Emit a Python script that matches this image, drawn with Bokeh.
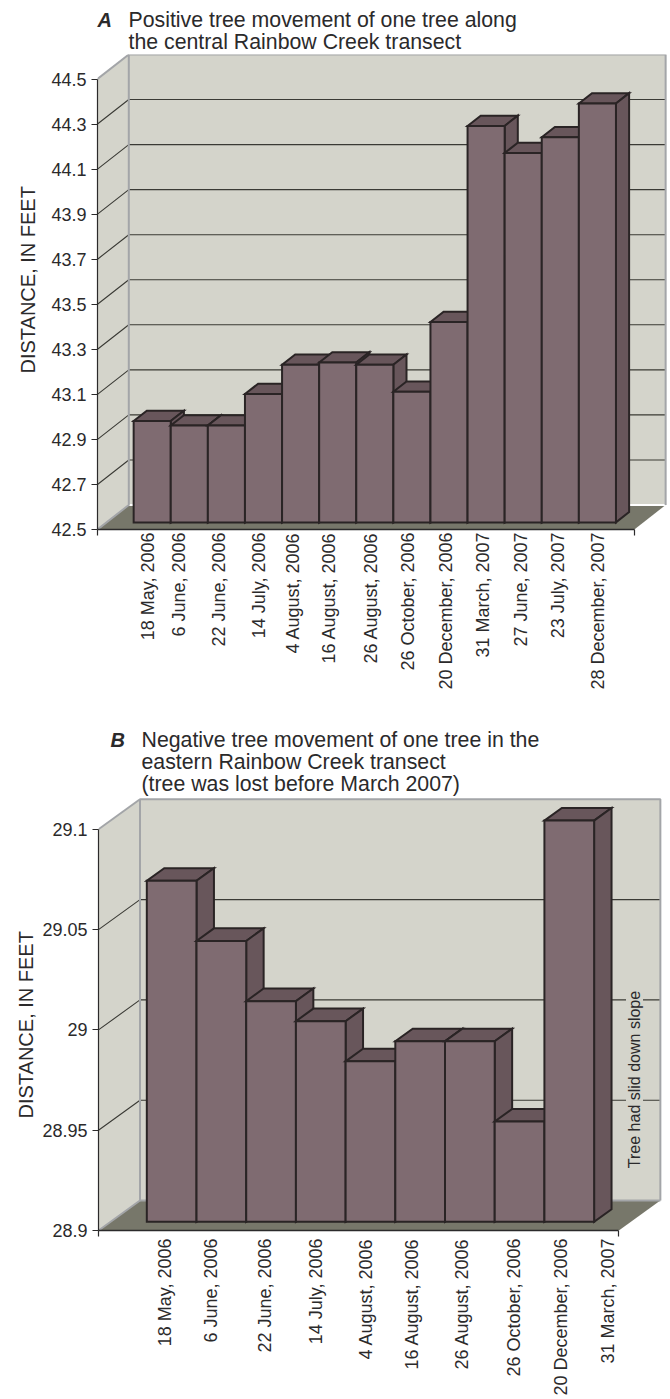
import math

from bokeh.core.properties import value
from bokeh.embed import file_html
from bokeh.layouts import column
from bokeh.models import FixedTicker, Label, LinearAxis, NumeralTickFormatter, Range1d, Title
from bokeh.plotting import figure
from bokeh.resources import INLINE

# Surveyed distances, feet
A_DATES = ["18 May, 2006", "6 June, 2006", "22 June, 2006", "14 July, 2006", "4 August, 2006",
           "16 August, 2006", "26 August, 2006", "26 October, 2006", "20 December, 2006",
           "31 March, 2007", "27 June, 2007", "23 July, 2007", "28 December, 2007"]
A_VALUES = [42.95, 42.93, 42.93, 43.07, 43.20, 43.21, 43.20, 43.08, 43.39, 44.26, 44.14, 44.21, 44.36]
A_TICKS = [42.5, 42.7, 42.9, 43.1, 43.3, 43.5, 43.7, 43.9, 44.1, 44.3, 44.5]
A_TITLE = ["Positive tree movement of one tree along", "the central Rainbow Creek transect"]

B_DATES = ["18 May, 2006", "6 June, 2006", "22 June, 2006", "14 July, 2006", "4 August, 2006",
           "16 August, 2006", "26 August, 2006", "26 October, 2006", "20 December, 2006",
           "31 March, 2007"]
B_VALUES = [29.07, 29.04, 29.01, 29.00, 28.98, 28.99, 28.99, 28.95, 29.10]
B_TICKS = [28.9, 28.95, 29.0, 29.05, 29.1]
B_TITLE = ["Negative tree movement of one tree in the", "eastern Rainbow Creek transect",
           "(tree was lost before March 2007)"]
B_NOTE = "Tree had slid down slope"

Y_LABEL = "DISTANCE, IN FEET"

SANS = "Liberation Sans"
WALL = "#d4d4cb"
WALL_EDGE = "#a3a5a8"
FLOOR = "#77776a"
BAR_FRONT = "#7f6b71"
BAR_SHADE = "#68565b"
BAR_EDGE = "#2a2425"
INK = "#2b2a2b"

FRONT_FRAC = 0.29    # depth at which a bar's front face sits
BACK_FRAC = 0.71     # depth at which its rear face sits
BAR_ORIGIN = 0.73    # left end of the first bar on the front plane, in bar widths
AXIS_EXTRA = 1.47    # axis length beyond the bars, in bar widths


def heading(letter, letter_x, lines, line_x, centres, height):
    """Strip above a panel holding its letter and caption."""
    h = figure(width=670, height=height, output_backend="svg", toolbar_location=None,
               x_range=Range1d(0, 670), y_range=Range1d(height, 0), min_border=0, frame_align=False,
               x_axis_type=None, y_axis_type=None)
    h.grid.visible = False
    h.outline_line_color = None
    h.text([letter_x], [centres[0]], text=[letter], text_font=value(SANS), text_font_style="bold italic",
           text_font_size="20px", text_color=INK, text_baseline="middle")
    h.text([line_x] * len(lines), centres, text=lines, text_font=value(SANS), text_font_size="21.3px",
           text_color=INK, text_baseline="middle")
    return h


def panel(dates, values, ticks, height, bottom_border, left, bar_px, unit_px, depth_px, label_shift_px,
          tick_format, title_offset, title_standoff, date_standoff, base_edge):
    dx, dy = depth_px[0] / bar_px, depth_px[1] / unit_px
    vmin, vmax = ticks[0], ticks[-1]
    end = len(values) + AXIS_EXTRA
    y_top = vmin + (height - bottom_border) / unit_px

    p = figure(width=670, height=height, output_backend="svg", toolbar_location=None,
               x_range=Range1d(0, (670 - left) / bar_px), y_range=Range1d(vmin, y_top),
               min_border_left=left, min_border_right=0, min_border_top=0, frame_align=False,
               min_border_bottom=bottom_border, x_axis_type=None, y_axis_type=None)
    p.grid.visible = False
    p.outline_line_color = None
    p.background_fill_color = "white"
    p.border_fill_color = "white"

    def at(x, v, d):
        return x + d * dx, v + d * dy

    def poly(*corners):
        pts = [at(*c) for c in corners]
        return [q[0] for q in pts], [q[1] for q in pts]

    # Room: side wall, back wall, floor
    for corners, fill in [
        (((0, vmin, 0), (0, vmax, 0), (0, vmax, 1), (0, vmin, 1)), WALL),
        (((0, vmin, 1), (0, vmax, 1), (end, vmax, 1), (end, vmin, 1)), WALL),
        (((0, vmin, 0), (end, vmin, 0), (end, vmin, 1), (0, vmin, 1)), FLOOR),
    ]:
        xs, ys = poly(*corners)
        p.patch(xs, ys, fill_color=fill, line_color=None)

    # Gridlines run up the side wall and across the back wall
    grid_x, grid_y = [], []
    for t in ticks[1:-1]:
        xs, ys = poly((0, t, 0), (0, t, 1), (end, t, 1))
        grid_x.append(xs)
        grid_y.append(ys)
    p.multi_line(grid_x, grid_y, line_color="#3a3a35", line_width=1.1)

    # Room edges
    xs, ys = poly((0, vmin, 1), (end, vmin, 1))
    p.line(xs, ys, line_color=base_edge, line_width=2)
    edge_x, edge_y = [], []
    for corners in [((0, vmin, 0), (0, vmin, 1), (0, vmax, 1), (end, vmax, 1), (end, vmin, 1)),
                    ((0, vmax, 0), (0, vmax, 1))]:
        xs, ys = poly(*corners)
        edge_x.append(xs)
        edge_y.append(ys)
    p.multi_line(edge_x, edge_y, line_color=WALL_EDGE, line_width=2)

    # Bars, left to right so that each one overlaps its neighbour
    bx, by, fills = [], [], []
    for i, v in enumerate(values):
        x0, x1 = BAR_ORIGIN + i, BAR_ORIGIN + i + 1
        for corners, fill in [
            (((x0, v, FRONT_FRAC), (x1, v, FRONT_FRAC), (x1, v, BACK_FRAC), (x0, v, BACK_FRAC)), BAR_SHADE),
            (((x1, vmin, FRONT_FRAC), (x1, v, FRONT_FRAC), (x1, v, BACK_FRAC), (x1, vmin, BACK_FRAC)), BAR_SHADE),
            (((x0, vmin, FRONT_FRAC), (x1, vmin, FRONT_FRAC), (x1, v, FRONT_FRAC), (x0, v, FRONT_FRAC)), BAR_FRONT),
        ]:
            xs, ys = poly(*corners)
            bx.append(xs)
            by.append(ys)
            fills.append(fill)
    p.patches(bx, by, fill_color=fills, line_color=BAR_EDGE, line_width=2, line_join="miter")

    # Value axis
    yaxis = LinearAxis(bounds=(vmin, vmax), ticker=FixedTicker(ticks=ticks),
                       formatter=NumeralTickFormatter(format=tick_format),
                       major_label_text_font=SANS,
                       major_label_text_font_size="18px", major_label_text_color=INK,
                       major_label_standoff=5, major_tick_in=0, major_tick_out=6,
                       minor_tick_line_color=None, axis_line_color=INK, major_tick_line_color=INK,
                       axis_line_width=1.2, major_tick_line_width=1.2)
    p.add_layout(yaxis, "left")
    p.add_layout(Title(text=Y_LABEL, align="left", offset=title_offset, standoff=title_standoff,
                       text_font=SANS, text_font_size="20px", text_font_style="normal",
                       text_color=INK), "left")

    # Date axis: labels sit near the bars, the only tick marks are at its two ends
    label_ticks = [round(((BAR_ORIGIN + i + 0.5) * bar_px + FRONT_FRAC * depth_px[0] + s) / bar_px, 3)
                   for i, s in enumerate(label_shift_px)]
    xaxis = LinearAxis(bounds=(0, end), ticker=FixedTicker(ticks=label_ticks, minor_ticks=[0, end]),
                       major_label_overrides=dict(zip(label_ticks, dates)),
                       major_label_orientation=math.pi / 2, major_label_text_font=SANS,
                       major_label_text_font_size="18px", major_label_text_color=INK,
                       major_label_standoff=date_standoff, major_tick_line_color=None,
                       major_tick_out=0, major_tick_in=0,
                       minor_tick_in=0, minor_tick_out=6, minor_tick_line_color=INK,
                       axis_line_color=INK, axis_line_width=1.6, minor_tick_line_width=1.2)
    p.add_layout(xaxis, "below")
    return p


head_a = heading("A", 97, A_TITLE, 128, [19, 41], 54)
p_a = panel(A_DATES, A_VALUES, A_TICKS, 656, 181, 97, 37.1, 225.25, (31.3, 24.5),
            [-4.5, -10.6, -7.7, -4.8, -8, -9, -4, -4, -3.4, -3.5, -2.6, -2.7, 0.2],
            "0.0", 156, 19, -3, "white")

head_b = heading("B", 110, B_TITLE, 141, [29, 51.5, 73.5], 87)
p_b = panel(B_DATES, B_VALUES, B_TICKS, 602, 169, 98, 49.7, 2006.0, (41.5, 30.0),
            [-7, -9.9, -5.6, -4.3, -4, -7.7, -7.4, -5.1, -7.8, -10.5],
            "0.[00]", 112, 6, 2, WALL_EDGE)

# Note over the empty last slot, where no bar could be measured
note_x = (634 - 98) / 49.7
p_b.add_layout(Label(x=note_x, y=28.9 + (1230 - 1079) / 2006.0, text=B_NOTE, angle=math.pi / 2,
                     text_font=SANS, text_font_size="16px", text_color=INK,
                     text_align="center", text_baseline="middle",
                     background_fill_color=WALL))

open("out.html", "w").write(file_html(column(head_a, p_a, head_b, p_b, spacing=0), INLINE))
